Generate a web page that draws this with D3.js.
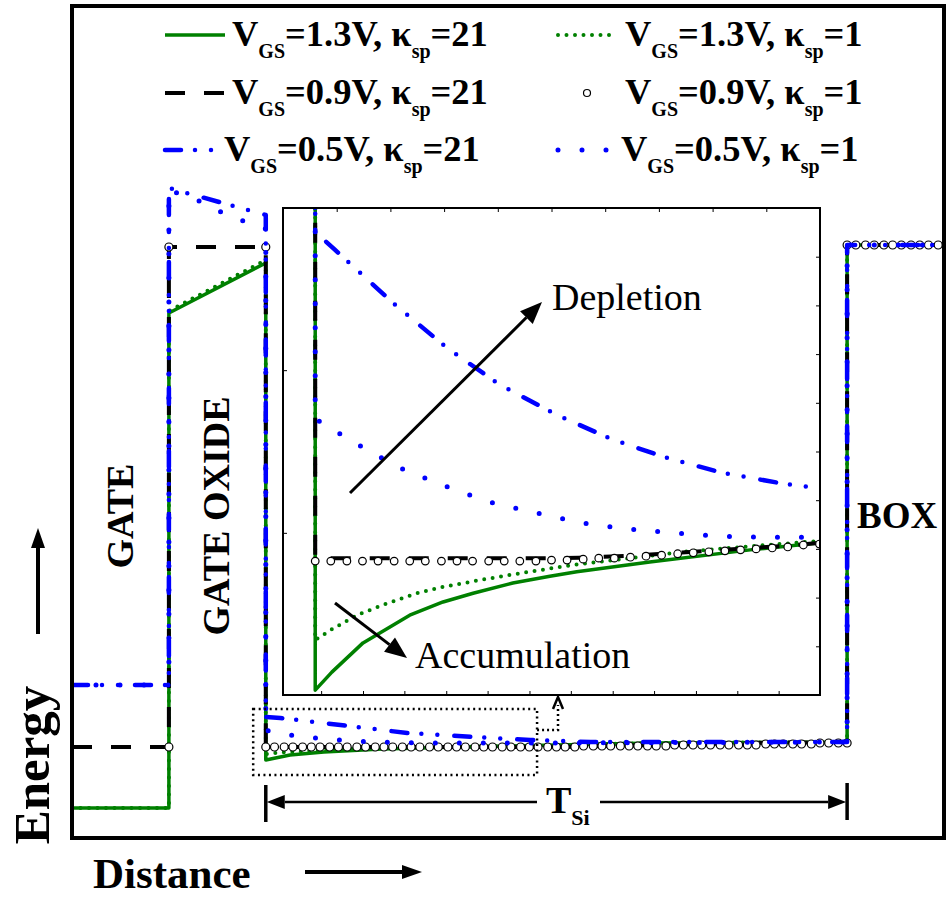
<!DOCTYPE html>
<html>
<head>
<meta charset="utf-8">
<script src="https://cdn.jsdelivr.net/npm/d3@7"></script>
<style>
  body { margin: 0; background: #fff; }
  text { font-family: "Liberation Serif", "Times New Roman", serif; }
</style>
</head>
<body>
<div id="chart"></div>
<script>
// ---- main band diagram: distance (gate 0-1, oxide 1-2, Si 2-8, BOX 8-9) vs energy (a.u.)
var green21 = [[0,0.30],[1,0.30],[1,5.25],[2,5.75],[2,0.78],[2.25,0.83],[2.6,0.86],[3.2,0.89],[4.0,0.91],[5.0,0.93],[6.0,0.95],[8,0.96],[8,5.93],[9,5.93]];
var green1  = [[0,0.30],[1,0.30],[1,5.27],[2,5.78],[2,0.84],[2.2,0.86],[2.6,0.88],[3.2,0.90],[4.0,0.91],[5.0,0.93],[6.0,0.95],[8,0.96],[8,5.93],[9,5.93]];
var black21 = [[0,0.91],[1,0.91],[1,5.91],[2,5.91],[2,0.91],[5.0,0.91],[6.0,0.93],[7.0,0.95],[8,0.96],[8,5.93],[9,5.93]];
var blue21  = [[0,1.53],[1,1.53],[1,6.50],[2,6.23],[2,1.21],[2.15,1.20],[2.77,1.13],[3.46,1.05],[4.14,1.01],[4.73,0.98],[5.35,0.96],[6.5,0.96],[8,0.96],[8,5.93],[9,5.93]];
var blue1   = [[0,1.53],[1,1.53],[1,6.48],[1.34,6.36],[1.56,6.25],[1.82,6.15],[2,6.09],[2,1.08],[2.09,1.05],[2.59,0.99],[3.11,0.96],[3.59,0.95],[5.0,0.95],[8,0.96],[8,5.93],[9,5.93]];

// V_GS = 0.9 V, kappa = 1 (open circles)
var circGate = [[1,0.91],[1,5.91],[2,5.91]];
var circSiX = [2.00,2.09,2.19,2.28,2.38,2.47,2.56,2.66,2.75,2.84,2.94,3.03,3.13,3.22,3.31,3.41,3.50,3.59,3.69,3.78,
  3.88,3.97,4.06,4.16,4.25,4.34,4.44,4.53,4.63,4.72,4.81,4.91,5.00,5.09,5.19,5.28,5.38,5.47,5.56,5.66,
  5.75,5.84,5.94,6.03,6.13,6.22,6.31,6.41,6.50,6.59,6.69,6.78,6.88,6.97,7.06,7.16,7.25,7.34,7.44,7.53,
  7.63,7.72,7.81,7.91,8.00];
var circSiE = [0.91,0.91,0.91,0.91,0.91,0.91,0.91,0.91,0.91,0.91,0.91,0.91,0.91,0.91,0.91,0.91,0.91,0.91,0.91,0.91,
  0.91,0.91,0.91,0.91,0.91,0.91,0.91,0.91,0.91,0.91,0.91,0.91,0.91,0.91,0.91,0.92,0.92,0.92,0.92,0.92,
  0.92,0.92,0.92,0.92,0.92,0.93,0.93,0.93,0.93,0.93,0.93,0.93,0.93,0.93,0.93,0.94,0.94,0.94,0.94,0.94,
  0.94,0.95,0.95,0.95,0.95];
var circBoxX = [8.00,8.09,8.19,8.28,8.38,8.47,8.56,8.66,8.75,8.84,8.94];
var circBoxE = 5.93;

// ---- inset (zoom of the Si surface), its own units 0-10 x 0-10
var inGreen21 = [[0.60,10.5],[0.60,0.10],[0.91,0.47],[1.49,1.07],[2.36,1.64],[2.98,1.91],[3.54,2.09],[4.28,2.30],[4.97,2.44],[5.47,2.53],[6.83,2.73],[8.70,2.98],[9.96,3.12]];
var inGreen1  = [[0.60,10.5],[0.60,1.13],[0.69,1.19],[0.88,1.33],[1.38,1.64],[1.86,1.85],[2.50,2.09],[2.98,2.22],[3.67,2.36],[4.47,2.51],[5.40,2.67],[7.45,2.94],[9.01,3.08],[9.96,3.16]];
var inBlack21 = [[0.60,10.5],[0.60,2.81],[5.0,2.81],[5.5,2.82],[6.5,2.86],[7.5,2.93],[8.6,3.01],[9.3,3.06],[9.96,3.12]];
var inBlue21  = [[0.60,10.5],[0.60,9.51],[0.95,9.16],[2.05,8.05],[3.05,7.13],[4.04,6.37],[5.10,5.75],[6.15,5.24],[7.15,4.87],[8.19,4.56],[9.26,4.35],[9.96,4.25]];
var inBlue1   = [[0.60,10.5],[0.60,5.67],[1.30,5.20],[2.14,4.68],[3.02,4.29],[3.85,3.96],[4.71,3.74],[5.57,3.53],[6.42,3.41],[7.26,3.33],[8.12,3.26],[8.99,3.24],[9.96,3.24]];
var inCircX = [0.60,0.89,1.19,1.48,1.77,2.07,2.36,2.65,2.95,3.24,3.53,3.83,4.12,4.41,4.71,5.00,5.29,5.59,5.88,6.17,
  6.47,6.76,7.05,7.35,7.64,7.93,8.23,8.52,8.81,9.11,9.40,9.69,9.99];
var inCircE = [2.75,2.75,2.75,2.75,2.75,2.75,2.75,2.75,2.75,2.75,2.75,2.75,2.75,2.75,2.75,2.77,2.77,2.79,2.81,2.81,
  2.83,2.85,2.87,2.90,2.92,2.94,2.96,2.98,3.00,3.02,3.04,3.08,3.10];
var inTopTicks = [1,2,3,4,5,6,7,8,9];
var inRightTicks = [1,2,3,4,5,6,7,8,9];
var inLeftTicks = [3.33,6.67];
var inBottomTicks = [0.71,1.49,2.26,3.04,3.81,4.59,5.36,6.14,6.91,7.69,8.46,9.23];

// legend
var legendVgs = ["1.3", "0.9", "0.5"];
var legendKappa = ["21", "1"];

var styles = {
  green21: {stroke: "#008000", width: 3.5, dash: null, cap: "butt"},
  green1:  {stroke: "#008000", width: 4, dash: "0 8.5", cap: "round"},
  black21: {stroke: "#000", width: 4, dash: "20 19", cap: "butt"},
  blue21:  {stroke: "#0000ff", width: 4.5, dash: "16 14 0 16 0 17", cap: "round"},
  blue1:   {stroke: "#0000ff", width: 5, dash: "0 24", cap: "round"}
};

var svg = d3.select("#chart").append("svg")
  .attr("width", 946).attr("height", 897);

var x = d3.scaleLinear().domain([0, 9]).range([72, 944]);
var y = d3.scaleLinear().domain([0, 8.32]).range([838, 6]);

svg.append("clipPath").attr("id", "mainClip")
  .append("rect").attr("x", 72).attr("y", 6).attr("width", 872).attr("height", 832);

var main = svg.append("g").attr("clip-path", "url(#mainClip)");

function drawLine(g, data, st, sx, sy) {
  var line = d3.line().x(d => sx(d[0])).y(d => sy(d[1]));
  g.append("path")
    .datum(data)
    .attr("d", line)
    .attr("fill", "none")
    .attr("stroke", st.stroke)
    .attr("stroke-width", st.width)
    .attr("stroke-dasharray", st.dash)
    .attr("stroke-linecap", st.cap)
    .attr("stroke-linejoin", "round");
}

function drawCircles(g, pts, sx, sy, r) {
  g.selectAll(null)
    .data(pts)
    .enter()
    .append("circle")
    .attr("cx", d => sx(d[0]))
    .attr("cy", d => sy(d[1]))
    .attr("r", r)
    .attr("fill", "#fff")
    .attr("stroke", "#000")
    .attr("stroke-width", 1.2);
}

// main curves
drawLine(main, green21, styles.green21, x, y);
drawLine(main, green1, styles.green1, x, y);
drawLine(main, black21, styles.black21, x, y);
var mainCirc = circGate
  .concat(circSiX.map((v, i) => [v, circSiE[i]]))
  .concat(circBoxX.map(v => [v, circBoxE]));
drawCircles(main, mainCirc, x, y, 4);
drawLine(main, blue21, styles.blue21, x, y);
drawLine(main, blue1, styles.blue1, x, y);

// outer frame
svg.append("rect")
  .attr("x", 72).attr("y", 6).attr("width", 872).attr("height", 832)
  .attr("fill", "none").attr("stroke", "#000").attr("stroke-width", 4);

// dotted zoom box + connector to inset
var zb = {x0: 1.87, x1: 4.80, e0: 0.63, e1: 1.29};
svg.append("rect")
  .attr("x", x(zb.x0)).attr("y", y(zb.e1))
  .attr("width", x(zb.x1) - x(zb.x0)).attr("height", y(zb.e0) - y(zb.e1))
  .attr("fill", "none").attr("stroke", "#000").attr("stroke-width", 2.5)
  .attr("stroke-dasharray", "2 3.5");
svg.append("path")
  .attr("d", `M${x(zb.x1)},730 H558 V705`)
  .attr("fill", "none").attr("stroke", "#000").attr("stroke-width", 2.5)
  .attr("stroke-dasharray", "2 3");
svg.append("path")
  .attr("d", "M553,709 L558,697 L563,709")
  .attr("fill", "none").attr("stroke", "#000").attr("stroke-width", 2.5);

// ---- inset
var ix = d3.scaleLinear().domain([0, 10]).range([283, 820]);
var iy = d3.scaleLinear().domain([0, 10]).range([695, 208]);

svg.append("rect")
  .attr("x", 283).attr("y", 208).attr("width", 537).attr("height", 487)
  .attr("fill", "#fff");
svg.append("clipPath").attr("id", "insetClip")
  .append("rect").attr("x", 283).attr("y", 208).attr("width", 537).attr("height", 487);

var inset = svg.append("g").attr("clip-path", "url(#insetClip)");
drawLine(inset, inGreen21, styles.green21, ix, iy);
drawLine(inset, inGreen1, styles.green1, ix, iy);
drawLine(inset, inBlack21, styles.black21, ix, iy);
drawCircles(inset, inCircX.map((v, i) => [v, inCircE[i]]), ix, iy, 3.8);
drawLine(inset, inBlue21, styles.blue21, ix, iy);
drawLine(inset, inBlue1, styles.blue1, ix, iy);

function tickAxis(axis, tx, ty) {
  var g = svg.append("g").attr("transform", `translate(${tx},${ty})`)
    .call(axis.tickSize(-4).tickFormat(""));
  g.select(".domain").remove();
  g.selectAll("line").attr("stroke", "#000").attr("stroke-width", 1);
}
tickAxis(d3.axisTop(ix).tickValues(inTopTicks), 0, 208);
tickAxis(d3.axisBottom(ix).tickValues(inBottomTicks), 0, 695);
tickAxis(d3.axisLeft(iy).tickValues(inLeftTicks), 283, 0);
tickAxis(d3.axisRight(iy).tickValues(inRightTicks), 820, 0);

svg.append("rect")
  .attr("x", 283).attr("y", 208).attr("width", 537).attr("height", 487)
  .attr("fill", "none").attr("stroke", "#000").attr("stroke-width", 2);

// arrows
function arrow(x1, y1, x2, y2, len, half, sw) {
  var a = Math.atan2(y2 - y1, x2 - x1);
  var bx = x2 - len * Math.cos(a), by = y2 - len * Math.sin(a);
  svg.append("line")
    .attr("x1", x1).attr("y1", y1).attr("x2", bx).attr("y2", by)
    .attr("stroke", "#000").attr("stroke-width", sw);
  var px = -Math.sin(a) * half, py = Math.cos(a) * half;
  svg.append("path")
    .attr("d", `M${x2},${y2} L${bx + px},${by + py} L${bx - px},${by - py} Z`)
    .attr("fill", "#000");
}

arrow(350, 493, 542, 302, 22, 9, 3);
arrow(335, 603, 407, 658, 22, 9, 3);

svg.append("text").attr("x", 552).attr("y", 310)
  .attr("font-size", 38).text("Depletion");
svg.append("text").attr("x", 415).attr("y", 668)
  .attr("font-size", 38).text("Accumulation");

// T_Si dimension
svg.append("line").attr("x1", x(2)).attr("x2", x(2)).attr("y1", 785).attr("y2", 822)
  .attr("stroke", "#000").attr("stroke-width", 3.5);
svg.append("line").attr("x1", x(8)).attr("x2", x(8)).attr("y1", 783).attr("y2", 820)
  .attr("stroke", "#000").attr("stroke-width", 3.5);
arrow(537, 802, x(2) + 1, 802, 18, 7, 2.5);
arrow(600, 802, x(8) - 1, 802, 18, 7, 2.5);
var tsi = svg.append("text").attr("x", 546).attr("y", 813)
  .attr("font-size", 38).attr("font-weight", "bold");
tsi.append("tspan").text("T");
tsi.append("tspan").attr("dy", 12).attr("font-size", 22).text("Si");

// region labels
svg.append("text").attr("transform", "translate(133,516) rotate(-90)")
  .attr("text-anchor", "middle").attr("font-size", 38).attr("font-weight", "bold").text("GATE");
svg.append("text").attr("transform", "translate(229,516) rotate(-90)")
  .attr("text-anchor", "middle").attr("font-size", 38).attr("font-weight", "bold").text("GATE OXIDE");
svg.append("text").attr("x", 857).attr("y", 528)
  .attr("font-size", 37).attr("font-weight", "bold").text("BOX");

// axis titles
svg.append("text").attr("transform", "translate(49,765) rotate(-90)")
  .attr("text-anchor", "middle").attr("font-size", 51).attr("font-weight", "bold").text("Energy");
arrow(38, 634, 38, 528, 20, 7, 4);
svg.append("text").attr("x", 93).attr("y", 888)
  .attr("font-size", 43).attr("font-weight", "bold").text("Distance");
arrow(305, 872, 422, 872, 20, 7, 4);

// legend
var rowY = [35, 93, 150];
var leftKeys = ["green21", "black21", "blue21"];
var rightKeys = ["green1", "circle", "blue1"];

function legendText(tx, ty, vgs, kappa) {
  var t = svg.append("text").attr("x", tx).attr("y", ty)
    .attr("font-size", 36.5).attr("font-weight", "bold");
  t.append("tspan").text("V");
  t.append("tspan").attr("dy", 12).attr("font-size", 20).text("GS");
  t.append("tspan").attr("dy", -12).text("=" + vgs + "V, κ");
  t.append("tspan").attr("dy", 12).attr("font-size", 20).text("sp");
  t.append("tspan").attr("dy", -12).text("=" + kappa);
}

rowY.forEach(function(ry, i) {
  var st = styles[leftKeys[i]];
  var shift = i === 2 ? -8 : 0;
  svg.append("line").attr("x1", 165).attr("x2", 225 + shift).attr("y1", ry).attr("y2", ry)
    .attr("stroke", st.stroke).attr("stroke-width", st.width)
    .attr("stroke-dasharray", st.dash).attr("stroke-linecap", st.cap);
  legendText(232 + shift, ry + 11, legendVgs[i], legendKappa[0]);

  if (rightKeys[i] === "circle") {
    svg.append("circle").attr("cx", 587).attr("cy", ry).attr("r", 3.5)
      .attr("fill", "#fff").attr("stroke", "#000").attr("stroke-width", 1.2);
  } else {
    var rs = styles[rightKeys[i]];
    svg.append("line").attr("x1", 558).attr("x2", 612).attr("y1", ry).attr("y2", ry)
      .attr("stroke", rs.stroke).attr("stroke-width", rs.width)
      .attr("stroke-dasharray", rs.dash).attr("stroke-linecap", rs.cap);
  }
  legendText(625 + shift / 2, ry + 11, legendVgs[i], legendKappa[1]);
});
</script>
</body>
</html>
